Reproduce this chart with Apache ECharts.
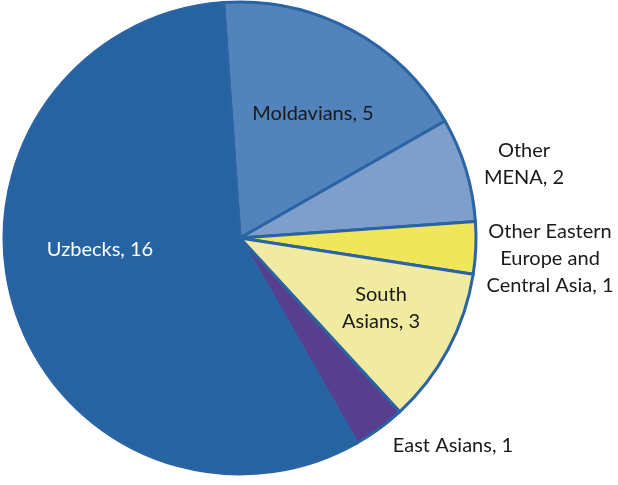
<!DOCTYPE html>
<html>
<head>
<meta charset="utf-8">
<script src="https://cdn.jsdelivr.net/npm/echarts@6/dist/echarts.min.js"></script>
<style>
html,body{margin:0;padding:0;background:#fff;}
#chart{width:618px;height:485px;}
</style>
</head>
<body>
<div id="chart"></div>
<script>
var categories = ['Moldavians', 'Other MENA', 'Other Eastern Europe and Central Asia', 'South Asians', 'East Asians', 'Uzbecks'];
var values = [5, 2, 1, 3, 1, 16];
var labelTexts = ['Moldavians, 5', 'Other\nMENA, 2', 'Other Eastern\nEurope and\nCentral Asia, 1', 'South\nAsians, 3', 'East Asians, 1', 'Uzbecks, 16'];
var colors = ['#5383bb', '#7e9fcc', '#f0e65a', '#f0eba0', '#573f8d', '#2563a1'];
var labelColors = ['#1a1a1a', '#1a1a1a', '#1a1a1a', '#1a1a1a', '#1a1a1a', '#ffffff'];
var labelPos = [[313, 114], [524, 164], [550, 259], [381, 308], [453, 446], [100, 250]];

var chart = echarts.init(document.getElementById('chart'), null, {renderer: 'canvas'});
var data = categories.map(function (c, i) {
  return {
    name: c,
    value: values[i],
    itemStyle: {color: colors[i]},
    label: {color: labelColors[i], formatter: labelTexts[i]}
  };
});
chart.setOption({
  animation: false,
  series: [{
    type: 'pie',
    center: [240, 238],
    radius: [0, 236],
    startAngle: 94,
    clockwise: true,
    avoidLabelOverlap: false,
    itemStyle: {borderColor: '#2a64a4', borderWidth: 3},
    label: {
      show: true,
      position: 'inside',
      fontFamily: 'Lato',
      fontSize: 20,
      lineHeight: 27,
      align: 'center'
    },
    labelLine: {show: false},
    labelLayout: function (p) {
      var pos = labelPos[p.dataIndex];
      return {x: pos[0], y: pos[1], align: 'center', verticalAlign: 'middle'};
    },
    emphasis: {disabled: true},
    data: data
  }]
});
</script>
</body>
</html>
